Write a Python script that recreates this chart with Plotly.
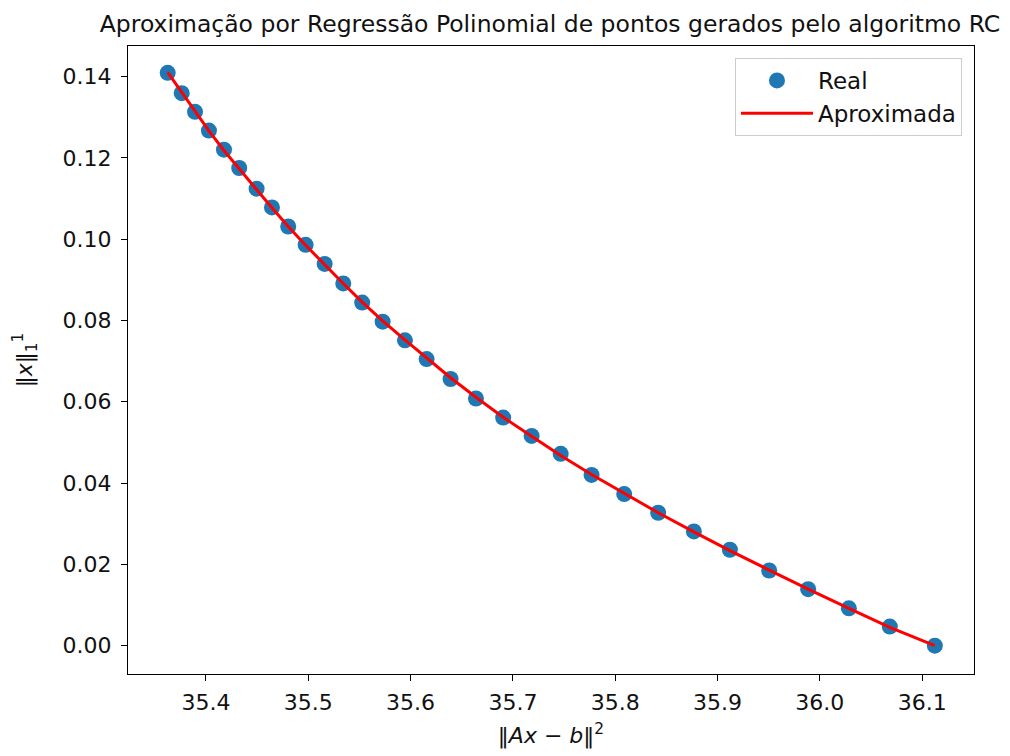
import plotly.graph_objects as go

# Data
x_real = [35.3626, 35.3763, 35.3893, 35.4029, 35.4176, 35.4325, 35.4495, 35.4645,
          35.4804, 35.4974, 35.5160, 35.5342, 35.5527, 35.5727, 35.5945, 35.6157,
          35.6391, 35.6639, 35.6905, 35.7183, 35.7467, 35.7769, 35.8088, 35.8420,
          35.8769, 35.9121, 35.9505, 35.9886, 36.0284, 36.0684, 36.1124]
y_real = [0.1409, 0.1359, 0.1313, 0.1267, 0.1220, 0.1175, 0.1124, 0.1078,
          0.1031, 0.0986, 0.0939, 0.0891, 0.0844, 0.0797, 0.0751, 0.0705,
          0.0656, 0.0608, 0.0561, 0.0516, 0.0472, 0.0420, 0.0373, 0.0327,
          0.0281, 0.0236, 0.0185, 0.0139, 0.0092, 0.0047, 0.0000]
y_aprox = [0.1410, 0.1361, 0.1314, 0.1266, 0.1218, 0.1172, 0.1122, 0.1077,
           0.1031, 0.0985, 0.0937, 0.0891, 0.0845, 0.0799, 0.0752, 0.0707,
           0.0659, 0.0611, 0.0562, 0.0515, 0.0468, 0.0421, 0.0374, 0.0327,
           0.0280, 0.0234, 0.0186, 0.0139, 0.0092, 0.0045, 0.0000]
x_ticks = [35.4, 35.5, 35.6, 35.7, 35.8, 35.9, 36.0, 36.1]
y_ticks = [0.00, 0.02, 0.04, 0.06, 0.08, 0.10, 0.12, 0.14]

FONT = "DejaVu Sans"
INK = "#111111"

fig = go.Figure()
fig.add_trace(go.Scatter(
    x=x_real, y=y_real, mode="markers", name="Real",
    marker=dict(color="#1f77b4", size=16, line=dict(width=0)),
))
fig.add_trace(go.Scatter(
    x=x_real, y=y_aprox, mode="lines", name="Aproximada",
    line=dict(color="#ff0000", width=3),
))

axis_common = dict(
    showline=True, linecolor="black", linewidth=1.3, mirror=True,
    ticks="outside", ticklen=6, tickwidth=1.3, tickcolor="black",
    showgrid=False, zeroline=False, automargin=False,
    tickfont=dict(family=FONT, size=22, color=INK),
)

fig.update_layout(
    width=1010, height=756,
    paper_bgcolor="white", plot_bgcolor="white",
    margin=dict(l=128, r=36, t=46, b=82, autoexpand=False),
    font=dict(family=FONT, color=INK),
    title=dict(
        text="Aproximação por Regressão Polinomial de pontos gerados pelo algoritmo RC",
        font=dict(family=FONT, size=23.5, color=INK),
        x=550 / 1010, xanchor="center",
        yref="container", y=1 - 24 / 756, yanchor="middle",
    ),
    xaxis=dict(
        range=[35.3238, 36.1507], tickvals=x_ticks, tickformat=".1f",
        ticklabelstandoff=2,
        title=dict(text="‖<i>Ax</i> − <i>b</i>‖<sup>2</sup>", font=dict(family=FONT, size=22, color=INK), standoff=14),
        **axis_common,
    ),
    yaxis=dict(
        range=[-0.00696, 0.1475], tickvals=y_ticks, tickformat=".2f",
        ticklabelstandoff=5,
        title=dict(text="‖<i>x</i>‖<sub>1</sub><sup>1</sup>", font=dict(family=FONT, size=22, color=INK), standoff=23),
        **axis_common,
    ),
    legend=dict(
        x=0.9858, y=0.981, xanchor="right", yanchor="top",
        bgcolor="rgba(255,255,255,0.8)", bordercolor="#cccccc", borderwidth=1,
        font=dict(family=FONT, size=23, color=INK),
        itemwidth=72, tracegroupgap=4,
    ),
    showlegend=True,
)

fig.write_html("out.html")
